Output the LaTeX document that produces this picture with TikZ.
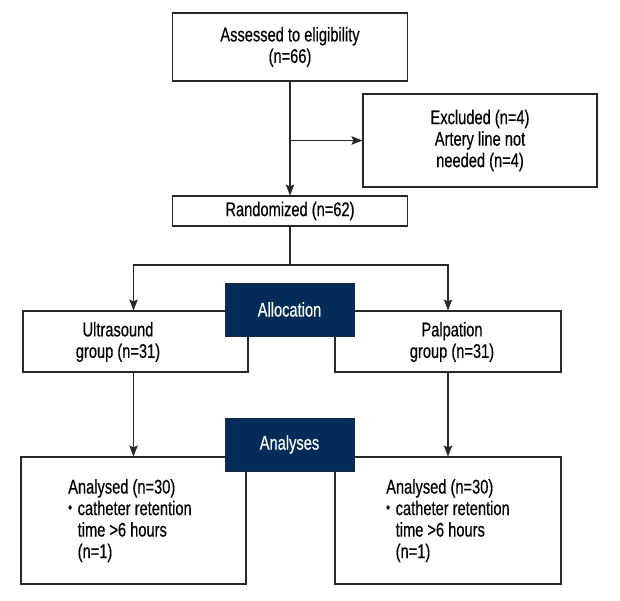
\documentclass[tikz,border=0pt]{standalone}
\usepackage{fontspec}
\setmainfont[FakeStretch=0.74,FakeBold=0.35]{Liberation Sans}
\usetikzlibrary{arrows.meta}
\definecolor{navy}{RGB}{4,44,88}
\definecolor{edge}{RGB}{40,40,40}
\begin{document}
\begin{tikzpicture}[x=1pt,y=-1pt,
  font=\fontsize{19.8}{21.5}\selectfont,
  box/.style={draw=edge,line width=1.1pt,fill=white,inner sep=0pt,align=center},
  darkbox/.style={draw=edge!60!navy,line width=0.8pt,fill=navy,text=white,inner sep=0pt,align=center,minimum width=129pt,minimum height=53pt},
  lbl/.style={inner sep=0pt,align=center},
  ltext/.style={inner sep=0pt,align=left,anchor=north west},
  conn/.style={draw=edge,line width=1.1pt},
  arr/.style={conn,-{Stealth[length=11pt,width=8.5pt,inset=2pt]}}]
\useasboundingbox (0,0) rectangle (620,600);
% boxes
\node[box,minimum width=235pt,minimum height=68pt] (assess) at (290,47) {Assessed to eligibility\\(n=66)};
\node[box,minimum width=234pt,minimum height=93pt] (excl) at (480,140.5) {Excluded (n=4)\\Artery line not\\needed (n=4)};
\node[box,minimum width=235pt,minimum height=30pt] (rand) at (290,211) {Randomized (n=62)};
\node[box,minimum width=225pt,minimum height=61pt] (us) at (135.5,341.5) {};
\node[box,minimum width=226pt,minimum height=61pt] (pal) at (448,341.5) {};
\node[lbl] (ustext) at (118,342) {Ultrasound\\group (n=31)};
\node[lbl] (paltext) at (452,342) {Palpation\\group (n=31)};
\node[box,minimum width=225pt,minimum height=127pt] (bl) at (133.5,520.5) {};
\node[box,minimum width=226pt,minimum height=127pt] (br) at (448,520.5) {};
\node[ltext] (bltext) at (68,479) {Analysed (n=30)\\\makebox[9.5pt][l]{\raisebox{0.25ex}{\scalebox{0.75}{•}}}catheter retention\\\hspace*{9.5pt}time >6 hours\\\hspace*{9.5pt}(n=1)};
\node[ltext] (brtext) at (386,479) {Analysed (n=30)\\\makebox[9.5pt][l]{\raisebox{0.25ex}{\scalebox{0.75}{•}}}catheter retention\\\hspace*{9.5pt}time >6 hours\\\hspace*{9.5pt}(n=1)};
\node[darkbox] (alloc) at (289.5,309.5) {Allocation};
\node[darkbox] (anal) at (289.5,444.5) {Analyses};
% connectors
\coordinate (split) at (290,265);
\draw[arr] (assess.south) -- (rand.north);
\draw[arr] (assess.south |- excl.west) -- (excl.west);
\draw[conn] (rand.south) -- (split);
\draw[arr] (split) -| (bl.north |- us.north);
\draw[arr] (split) -| (pal.north);
\draw[arr] (bl.north |- us.south) -- (bl.north);
\draw[arr] (pal.south) -- (br.north);
\end{tikzpicture}
\end{document}
